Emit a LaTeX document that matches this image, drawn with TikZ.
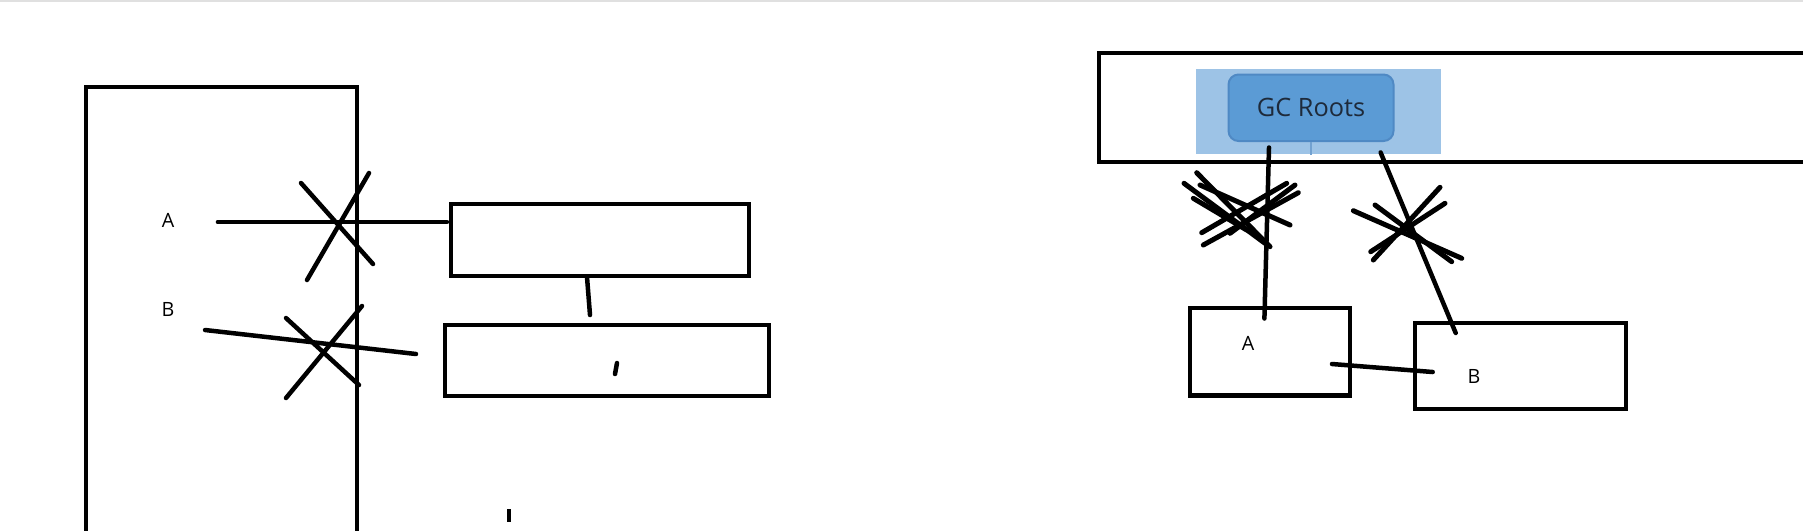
\documentclass[tikz,border=0pt]{standalone}
\usepackage{fontspec}
\setmainfont{Open Sans}
\usepackage{xcolor}
\usetikzlibrary{calc}
\definecolor{rootbg}{HTML}{9DC3E6}
\definecolor{rootfill}{HTML}{5B9BD5}
\definecolor{rootedge}{HTML}{4F89C4}
\definecolor{roottext}{HTML}{1E2A3A}

\begin{document}
\begin{tikzpicture}[
    x=0.1mm, y=-0.1mm,
    frame/.style={draw, line width=0.45mm, inner sep=0pt, outer sep=0pt},
    box/.style={draw, line width=0.45mm, inner sep=0pt, outer sep=0pt},
    tag/.style={font=\fontsize{5.6}{6}\selectfont, inner sep=0pt},
    link/.style={line width=0.45mm, line cap=round},
    scribble/.style={line width=0.5mm, line cap=round},
    root/.style={draw=rootedge, fill=rootfill, rounded corners=1mm, line width=0.2mm, text=roottext,
      font=\fontsize{7.2}{8}\selectfont, minimum width=16.5mm, minimum height=6.65mm, inner sep=0pt}
  ]
    \useasboundingbox (0,0) rectangle (1803,530);
    \clip (0,0) rectangle (1803,530);
    \draw[black!12, line width=0.25mm] (0,1) -- (1803,1);

    \node[frame, minimum width=27.1mm, minimum height=55.3mm] (stack) at (221.5,363.5) {};
    \node[tag] (refA) at (168,220) {A};
    \node[tag] (refB) at (168,309) {B};
    \node[box, minimum width=29.8mm, minimum height=7.2mm] (objA) at (600,240) {};
    \node[box, minimum width=32.4mm, minimum height=7.1mm] (objB) at (607,360.5) {};

    \draw[link] ($(refA.east)+(43,2)$) -- ($(objA.west)+(-4,-18)$);
    \draw[link] ($(refB.east)+(30,21)$) -- ($(objB.west)+(-29,-6.5)$);
    \draw[link] ($(objA.south)+(-13,1)$) -- ($(objB.north)+(-17,-10)$);
    \draw[link] ($(objB.center)+(10,2.5)$) -- ($(objB.center)+(8,13.5)$);
    \draw[link, line cap=butt] (509,509) -- (509,522);

    \foreach \xa/\ya/\xb/\yb in {301/183/373/264, 369/173/307/280, 286/318/359/385, 362/306/286/398}
      \draw[link] (\xa,\ya) -- (\xb,\yb);

    \node[frame, minimum width=80mm, minimum height=10.9mm, anchor=north west] (heap) at (1099,53) {};
    \node[fill=rootbg, minimum width=24.45mm, minimum height=8.55mm, inner sep=0pt] (rootsbg) at (1318.25,111.25) {};
    \node[root] (gcroots) at (1311,107.75) {GC Roots};
    \draw[rootedge!80, line width=0.2mm] (gcroots.south) -- (gcroots.south |- rootsbg.south);

    \node[box, minimum width=16mm, minimum height=8.75mm] (objA2) at (1270,351.75) {};
    \node[box, minimum width=21.1mm, minimum height=8.6mm] (objB2) at (1520.5,366) {};
    \node[tag] (tagA2) at (1248,343) {A};
    \node[tag] (tagB2) at (1474,376.5) {B};

    \draw[link] ($(gcroots.south)+(-42,5.5)$) -- ($(objA2.north)+(-5.6,10.5)$);
    \draw[link] ($(gcroots.south)+(69.6,10.5)$) -- ($(objB2.north)+(-64.8,10)$);
    \draw[link] ($(objA2.center)+(62,12.25)$) -- ($(objB2.center)+(-87.8,6)$);

    \foreach \xa/\ya/\xb/\yb in {1196.7/172.7/1270/246.7, 1184/183.3/1265/243.3, 1200/185/1290/225,
        1193.3/198.3/1246.7/230, 1201.7/232.7/1286.7/183.3, 1203.3/245/1298.3/192.7, 1230/233.3/1295/185,
        1353.3/210.7/1461.7/258.3, 1375/205/1451.7/261.7, 1440/187.3/1373.3/260, 1445/203.3/1370.7/251.7}
      \draw[scribble] (\xa,\ya) -- (\xb,\yb);
  \end{tikzpicture}
\end{document}
